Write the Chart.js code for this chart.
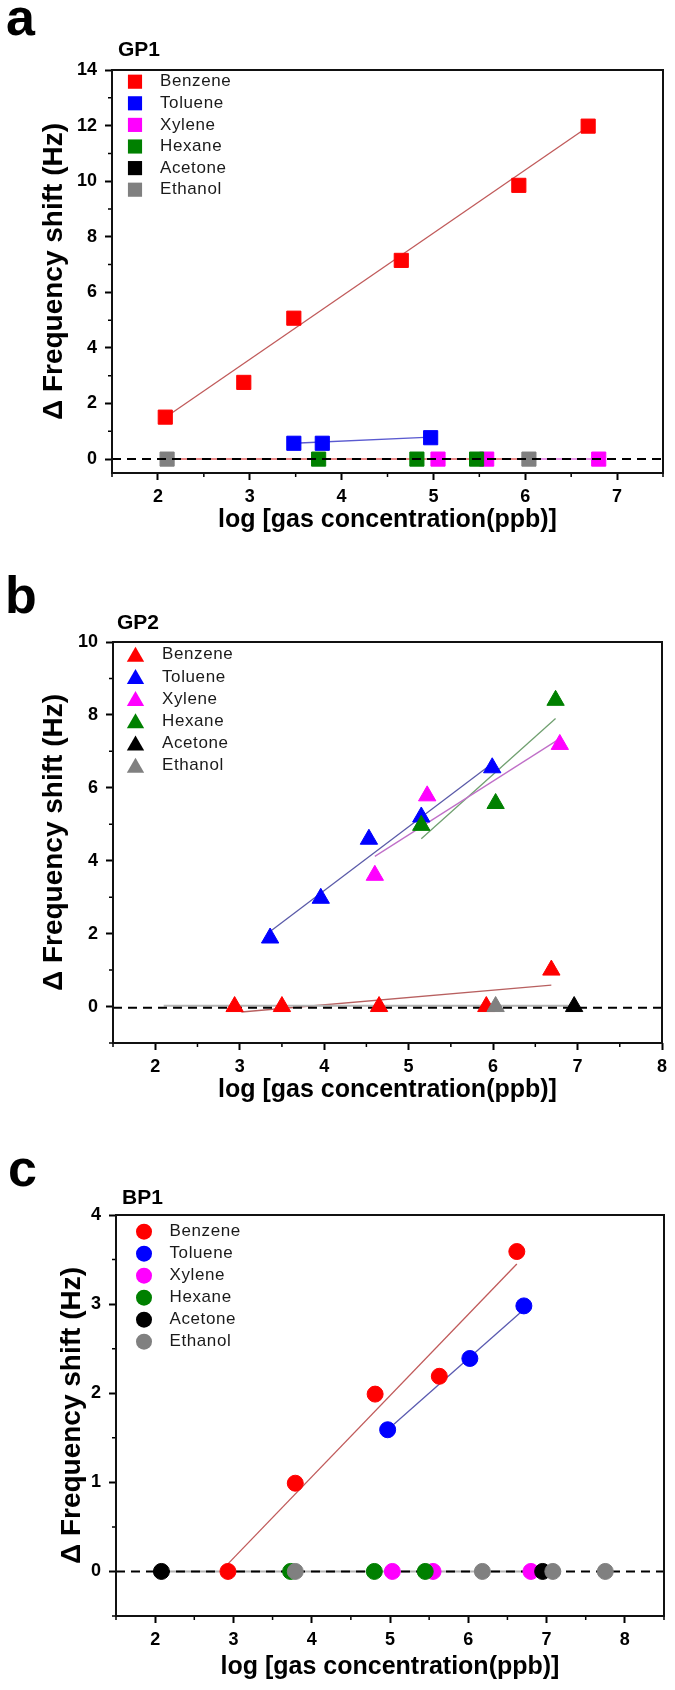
<!DOCTYPE html>
<html lang="en">
<head>
<meta charset="UTF-8">
<title>Frequency shift vs gas concentration</title>
<script src="https://cdn.jsdelivr.net/npm/chart.js"></script>
<style>
  body { margin: 0; background: #fff; width: 675px; height: 1690px; position: relative; overflow: hidden;
         font-family: "Liberation Sans", Arial, sans-serif; }
  .band { position: absolute; left: 0; width: 675px; }
  .tag { position: absolute; font-weight: bold; line-height: 1; color: #000; }
  .letter { font-size: 52px; }
  .name { font-size: 21px; }
</style>
</head>
<body>
<div class="band" style="top:0;height:550px"><canvas id="gp1" width="675" height="550"></canvas></div>
<div class="band" style="top:550px;height:575px"><canvas id="gp2" width="675" height="575"></canvas></div>
<div class="band" style="top:1125px;height:565px"><canvas id="bp1" width="675" height="565"></canvas></div>

<div class="tag letter" style="left:6px;top:-9px">a</div>
<div class="tag name" style="left:118px;top:38px">GP1</div>
<div class="tag letter" style="left:5px;top:569px">b</div>
<div class="tag name" style="left:117px;top:611px">GP2</div>
<div class="tag letter" style="left:8px;top:1142px">c</div>
<div class="tag name" style="left:122px;top:1186px">BP1</div>

<script>
const gasNames  = ['Benzene', 'Toluene', 'Xylene', 'Hexane', 'Acetone', 'Ethanol'];
const gasColors = ['#ff0000', '#0000ff', '#ff00ff', '#008000', '#000000', '#808080'];

// panel a: GP1, points are [log conc, shift Hz]
const gp1Benzene = [[2.08, 1.51], [2.935, 2.76], [3.48, 5.07], [4.65, 7.15], [5.93, 9.85], [6.685, 11.98]];
const gp1Toluene = [[3.48, 0.57], [3.79, 0.57], [4.97, 0.77]];
const gp1Xylene  = [[5.05, 0], [5.58, 0], [6.8, 0]];
const gp1Hexane  = [[3.75, 0], [4.82, 0], [5.47, 0]];
const gp1Acetone = [];
const gp1Ethanol = [[2.1, 0], [6.04, 0]];
const gp1FitBenzene = [[2.08, 1.5], [6.68, 11.95]];
const gp1FitToluene = [[3.48, 0.57], [4.97, 0.79]];
const gp1FitZeroA   = [[2.15, 0], [6.0, 0]];
const gp1FitZeroB   = [[6.0, 0], [6.8, 0]];
const gp1XTicks = [2, 3, 4, 5, 6, 7];
const gp1YTicks = [0, 2, 4, 6, 8, 10, 12, 14];

// panel b: GP2
const gp2Benzene = [[2.94, 0], [3.5, 0], [4.65, 0], [5.92, 0], [6.69, 1.0]];
const gp2Toluene = [[3.36, 1.88], [3.96, 2.97], [4.53, 4.59], [5.15, 5.2], [5.99, 6.55]];
const gp2Xylene  = [[4.6, 3.6], [5.22, 5.78], [6.79, 7.19]];
const gp2Hexane  = [[5.15, 4.97], [6.03, 5.57], [6.74, 8.4]];
const gp2Acetone = [[6.96, 0]];
const gp2Ethanol = [[6.03, 0]];
const gp2FitBenzene = [[3.02, -0.15], [6.69, 0.59]];
const gp2FitToluene = [[3.36, 2.06], [5.99, 6.67]];
const gp2FitXylene  = [[4.6, 4.12], [6.79, 7.35]];
const gp2FitHexane  = [[5.15, 4.6], [6.74, 7.9]];
const gp2FitZero    = [[2.1, 0.02], [6.94, 0.02]];
const gp2XTicks = [2, 3, 4, 5, 6, 7, 8];
const gp2YTicks = [0, 2, 4, 6, 8, 10];

// panel c: BP1
const bp1Benzene = [[2.93, 0], [3.79, 0.99], [4.81, 1.99], [5.63, 2.19], [6.62, 3.59]];
const bp1Toluene = [[4.97, 1.59], [6.02, 2.39], [6.71, 2.98]];
const bp1Xylene  = [[5.03, 0], [5.55, 0], [6.8, 0]];
const bp1Hexane  = [[3.73, 0], [4.8, 0], [5.45, 0]];
const bp1Acetone = [[2.08, 0], [6.95, 0]];
const bp1Ethanol = [[3.79, 0], [6.18, 0], [7.08, 0], [7.75, 0]];
const bp1FitBenzene = [[2.93, 0.085], [6.62, 3.45]];
const bp1FitToluene = [[4.97, 1.59], [6.71, 2.94]];
const bp1FitZero    = [[2.08, 0], [7.08, 0]];
const bp1XTicks = [2, 3, 4, 5, 6, 7, 8];
const bp1YTicks = [0, 1, 2, 3, 4];

const FONT = "'Liberation Sans', Arial, sans-serif";
Chart.defaults.font.family = FONT;

const toXY = arr => arr.map(p => ({x: p[0], y: p[1]}));

function minorOf(ticks, min, max) {
  const step = ticks[1] - ticks[0];
  const out = [];
  for (let v = ticks[0] - step / 2; v <= max + 1e-9; v += step) {
    if (v >= min - 1e-9) out.push(v);
  }
  return out;
}

function drawMarker(ctx, style, x, y, r) {
  ctx.beginPath();
  if (style === 'rect') {
    const s = r * Math.SQRT1_2;
    ctx.rect(x - s, y - s, 2 * s, 2 * s);
  } else if (style === 'triangle') {
    let a = 0;
    ctx.moveTo(x + Math.sin(a) * r, y - Math.cos(a) * r);
    a += Math.PI * 2 / 3;
    ctx.lineTo(x + Math.sin(a) * r, y - Math.cos(a) * r);
    a += Math.PI * 2 / 3;
    ctx.lineTo(x + Math.sin(a) * r, y - Math.cos(a) * r);
    ctx.closePath();
  } else {
    ctx.arc(x, y, r, 0, Math.PI * 2);
  }
  ctx.fill();
}

function makePanel(p) {
  const area = {l: p.area.l, r: p.area.r, t: p.area.t - p.top, b: p.area.b - p.top};
  const canvasH = p.height;
  const datasets = [];

  datasets.push({
    data: toXY([[p.x[0], p.base], [p.x[1], p.base]]),
    showLine: true, pointRadius: 0, borderColor: '#000', borderWidth: 2,
    borderDash: [9, 6], order: p.dashOnTop ? 0 : 20
  });

  p.series.forEach((s, i) => {
    datasets.push({
      label: gasNames[i],
      data: toXY(s),
      pointStyle: p.marker,
      pointRadius: p.radius,
      pointBackgroundColor: gasColors[i],
      pointBorderColor: gasColors[i],
      pointBorderWidth: 1,
      order: 10 - i
    });
  });

  p.fits.forEach(f => {
    datasets.push({
      data: toXY(f.data), showLine: true, pointRadius: 0,
      borderColor: f.color, borderWidth: f.width || 1.3, order: 30
    });
  });

  const minorX = minorOf(p.xTicks, p.x[0], p.x[1]);
  const minorY = minorOf(p.yTicks, p.y[0], p.y[1]);

  const extras = {
    id: 'extras',
    afterDraw(chart) {
      const {ctx, chartArea: a, scales: {x, y}} = chart;
      ctx.save();
      ctx.strokeStyle = '#000';
      ctx.lineWidth = 1.5;
      ctx.beginPath();
      minorX.forEach(v => { const px = x.getPixelForValue(v); ctx.moveTo(px, a.bottom); ctx.lineTo(px, a.bottom + 4); });
      minorY.forEach(v => { const py = y.getPixelForValue(v); ctx.moveTo(a.left, py); ctx.lineTo(a.left - 4, py); });
      ctx.stroke();
      ctx.strokeStyle = '#111';
      ctx.lineWidth = 2;
      ctx.strokeRect(a.left, a.top, a.right - a.left, a.bottom - a.top);

      // legend inside the plot, top left
      const lg = p.legend;
      ctx.font = '17px ' + FONT;
      ctx.letterSpacing = '0.6px';
      ctx.textBaseline = 'middle';
      ctx.textAlign = 'left';
      gasNames.forEach((name, i) => {
        const yy = a.top + lg.dy + i * lg.gap;
        ctx.fillStyle = gasColors[i];
        drawMarker(ctx, p.marker, a.left + lg.dx, yy, p.radius);
        ctx.fillStyle = '#1a1a1a';
        ctx.fillText(name, a.left + lg.tx, yy + (p.marker === 'triangle' ? -2 : 0));
      });
      ctx.restore();
    }
  };

  const tickFont = {family: FONT, size: 18, weight: 'bold'};

  new Chart(document.getElementById(p.id), {
    type: 'scatter',
    data: {datasets},
    plugins: [extras],
    options: {
      responsive: false,
      animation: false,
      events: [],
      devicePixelRatio: 1,
      layout: {padding: {left: 0, top: area.t, right: 675 - area.r, bottom: 0}},
      plugins: {legend: {display: false}, tooltip: {enabled: false}},
      scales: {
        x: {
          type: 'linear', min: p.x[0], max: p.x[1],
          afterBuildTicks: s => { s.ticks = p.xTicks.map(v => ({value: v})); },
          afterFit: s => { s.height = canvasH - area.b; },
          ticks: {font: tickFont, color: '#000', padding: 6, autoSkip: false, maxRotation: 0},
          grid: {drawOnChartArea: false, drawTicks: true, tickLength: 7, tickWidth: 2, tickColor: '#000'},
          border: {display: false},
          title: {display: true, text: 'log [gas concentration(ppb)]',
                  font: {family: FONT, size: 25, weight: 'bold'}, color: '#000',
                  padding: {top: 0, bottom: p.xTitlePad}}
        },
        y: {
          type: 'linear', min: p.y[0], max: p.y[1],
          afterBuildTicks: s => { s.ticks = p.yTicks.map(v => ({value: v})); },
          afterFit: s => { s.width = area.l; },
          ticks: {font: tickFont, color: '#000', padding: 8, autoSkip: false},
          grid: {drawOnChartArea: false, drawTicks: true, tickLength: 7, tickWidth: 2, tickColor: '#000'},
          border: {display: false},
          title: {display: true, text: 'Δ Frequency shift (Hz)',
                  font: {family: FONT, size: 28, weight: 'bold'}, color: '#000',
                  padding: {top: p.yTitlePad, bottom: 0}}
        }
      }
    }
  });
}

makePanel({
  id: 'gp1', top: 0, height: 550,
  area: {l: 112, r: 663, t: 70, b: 473},
  x: [1.5, 7.5], y: [-0.5, 14], xTicks: gp1XTicks, yTicks: gp1YTicks,
  marker: 'rect', radius: 10, base: 0, dashOnTop: true,
  series: [gp1Benzene, gp1Toluene, gp1Xylene, gp1Hexane, gp1Acetone, gp1Ethanol],
  fits: [
    {data: gp1FitBenzene, color: '#c05a5a'},
    {data: gp1FitToluene, color: '#5a5ad0'},
    {data: gp1FitZeroA, color: '#e06060', width: 1.5},
    {data: gp1FitZeroB, color: '#e070e0', width: 1.5}
  ],
  legend: {dx: 23, tx: 48, dy: 11.7, gap: 21.6},
  xTitlePad: 15, yTitlePad: 37.7
});

makePanel({
  id: 'gp2', top: 550, height: 575,
  area: {l: 113, r: 662, t: 642, b: 1043},
  x: [1.5, 8], y: [-1, 10], xTicks: gp2XTicks, yTicks: gp2YTicks,
  marker: 'triangle', radius: 10, base: -0.03, dashOnTop: false,
  series: [gp2Benzene, gp2Toluene, gp2Xylene, gp2Hexane, gp2Acetone, gp2Ethanol],
  fits: [
    {data: gp2FitZero, color: '#b4b4b4', width: 2},
    {data: gp2FitBenzene, color: '#b86060'},
    {data: gp2FitToluene, color: '#5a5aa8'},
    {data: gp2FitXylene, color: '#c070c8'},
    {data: gp2FitHexane, color: '#70a070'}
  ],
  legend: {dx: 22.5, tx: 49, dy: 14.7, gap: 22.2},
  xTitlePad: 20, yTitlePad: 37.7
});

makePanel({
  id: 'bp1', top: 1125, height: 565,
  area: {l: 116, r: 664, t: 1215, b: 1616},
  x: [1.5, 8.5], y: [-0.5, 4], xTicks: bp1XTicks, yTicks: bp1YTicks,
  marker: 'circle', radius: 8, base: 0, dashOnTop: false,
  series: [bp1Benzene, bp1Toluene, bp1Xylene, bp1Hexane, bp1Acetone, bp1Ethanol],
  fits: [
    {data: bp1FitZero, color: '#b4b4b4', width: 2},
    {data: bp1FitBenzene, color: '#c05a5a'},
    {data: bp1FitToluene, color: '#5a5ab0'}
  ],
  legend: {dx: 28, tx: 53.5, dy: 16.7, gap: 22},
  xTitlePad: 8, yTitlePad: 55.2
});
</script>
</body>
</html>
